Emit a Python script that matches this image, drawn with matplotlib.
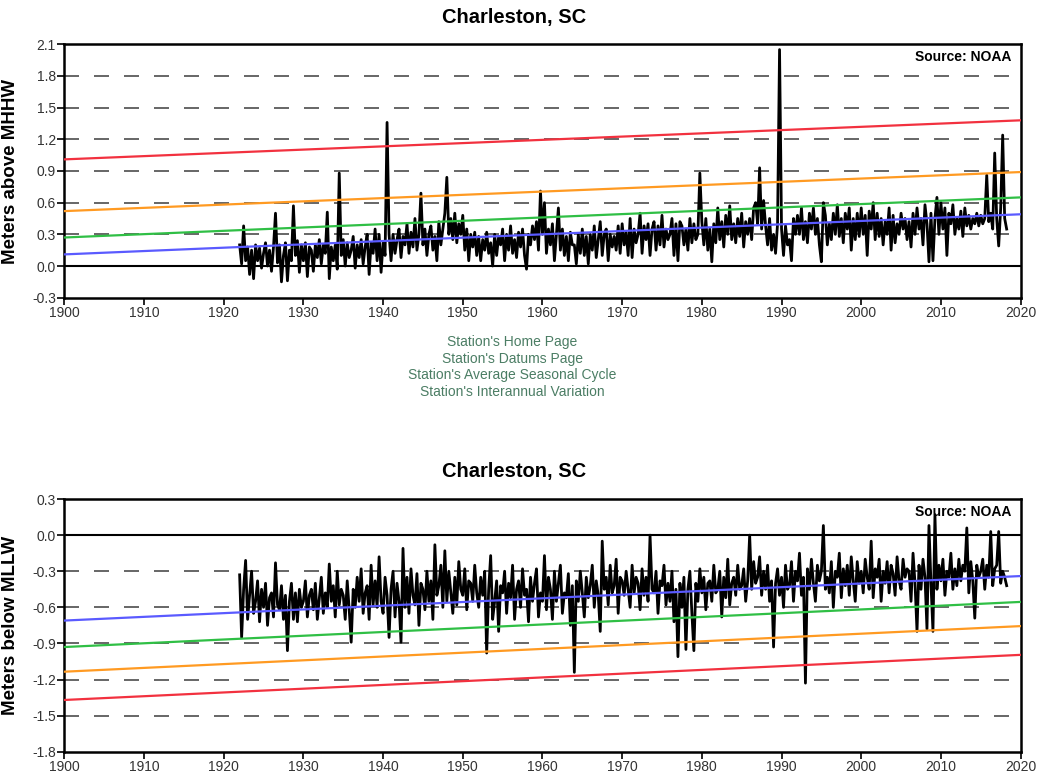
import numpy as np
import matplotlib
matplotlib.use("Agg")
import matplotlib.pyplot as plt

plt.rcParams['font.family'] = ['Liberation Sans', 'DejaVu Sans']

# Monthly extremes, sampled quarterly from 1922.0 (centimetres)
start_year = 1922.0
step = 0.25

# highest water above MHHW
high_cm = [
    20, 2, 38, 5,   18, -8, 15, -12,   20, 5, 17, -2,   12, 22, 0, 15,
    -5, 18, 50, 3,   20, -15, 10, 22,   -14, 15, 5, 57,   10, 24, -6, 20,
    5, 22, -10, 18,   15, -5, 20, 8,   25, 2, 20, 12,   51, -12, 18, 5,
    20, -3, 88, 10,   25, 0, 22, 8,   15, 28, -2, 20,   8, 25, 2, 18,
    30, -8, 22, 12,   35, 5, 30, -6,   22, 10, 136, 30,   5, 30, 12, 25,
    35, 8, 28, 20,   40, 12, 32, 18,   45, 15, 30, 69,   20, 35, 10, 30,
    38, 15, 28, 5,   42, 20, 35, 50,   84, 30, 45, 25,   50, 22, 40, 30,
    48, 15, 35, 5,   30, 18, 32, 10,   28, 5, 25, 15,   32, 12, 22, 0,
    30, 10, 28, 20,   35, 5, 30, 15,   38, 12, 25, 8,   32, 18, 35, 10,
    -3, 30, 20, 38,   25, 42, 15, 71,   30, 60, 12, 35,   20, 40, 5, 30,
    55, 15, 35, 10,   28, 5, 32, 20,   20, 2, 30, 12,   35, 10, 28, 2,
    30, 15, 38, 8,   25, 42, 10, 30,   35, 5, 30, 18,   28, 15, 38, 12,
    40, 20, 32, 10,   45, 8, 35, 22,   30, 50, 12, 38,   25, 40, 10, 35,
    42, 15, 38, 20,   48, 18, 35, 25,   30, 45, 10, 40,   5, 42, 38, 20,
    35, 15, 45, 22,   40, 25, 30, 88,   42, 20, 45, 15,   35, 4, 40, 22,
    55, 25, 42, 18,   48, 30, 57, 25,   40, 22, 45, 28,   50, 18, 42, 30,
    45, 25, 55, 60,   40, 93, 35, 62,   38, 20, 45, 15,   30, 12, 40, 205,
    35, 10, 38, 20,   25, 5, 45, 30,   48, 30, 55, 25,   42, 22, 50, 35,
    55, 30, 45, 20,   4, 60, 48, 20,   40, 25, 50, 30,   58, 28, 45, 22,
    50, 35, 55, 15,   45, 25, 50, 28,   55, 30, 48, 10,   52, 35, 60, 25,
    50, 28, 45, 20,   42, 30, 55, 15,   48, 22, 40, 30,   50, 35, 45, 25,
    42, 18, 50, 30,   55, 35, 45, 20,   58, 40, 4, 50,   5, 45, 65, 30,
    60, 35, 55, 10,   50, 40, 58, 30,   45, 35, 52, 28,   55, 38, 48, 35,
    45, 40, 50, 38,   48, 40, 45, 86,   42, 50, 35, 107,   45, 19, 55, 124,
    45, 35,
]

# lowest water below MLLW
low_cm = [
    -33, -85, -45, -21,   -70, -50, -30, -65,   -55, -38, -72, -45,   -60, -40, -75, -52,
    -48, -68, -23, -58,   -62, -42, -70, -50,   -96, -55, -40, -70,   -48, -72, -45, -60,
    -55, -38, -68, -50,   -45, -62, -40, -70,   -52, -35, -65, -48,   -60, -24, -55, -42,
    -68, -30, -58, -45,   -50, -70, -38, -62,   -89, -45, -60, -35,   -55, -28, -65, -48,
    -42, -70, -25, -58,   -38, -60, -18, -55,   -65, -35, -50, -85,   -45, -30, -68, -40,
    -55, -89, -11, -60,   -35, -65, -28, -50,   -58, -32, -75, -40,   -45, -62, -30, -55,
    -38, -70, -8, -50,   -42, -25, -60, -13,   -55, -30, -48, -65,   -35, -58, -22, -45,
    -50, -28, -62, -38,   -40, -55, -25, -48,   -60, -35, -50, -30,   -98, -45, -17, -70,
    -55, -38, -80, -42,   -48, -30, -65, -40,   -52, -25, -70, -45,   -38, -60, -28, -50,
    -45, -72, -35, -55,   -40, -28, -68, -48,   -55, -17, -62, -35,   -45, -70, -30, -55,
    -40, -25, -65, -48,   -52, -32, -75, -42,   -114, -38, -55, -30,   -48, -68, -35, -52,
    -42, -25, -60, -38,   -50, -80, -5, -45,   -35, -58, -25, -48,   -42, -20, -65, -35,
    -38, -50, -30, -45,   -60, -25, -48, -35,   -40, -62, -28, -50,   -35, -55, 0, -45,
    -48, -30, -65, -38,   -42, -25, -58, -40,   -55, -30, -72, -45,   -101, -40, -60, -35,
    -95, -45, -30, -65,   -96, -40, -55, -28,   -48, -35, -62, -40,   -38, -55, -25, -48,
    -45, -30, -68, -35,   -52, -20, -58, -40,   -35, -50, -25, -45,   -42, -28, -55, -38,
    0, -45, -22, -40,   -35, -18, -50, -30,   -45, -25, -55, -38,   -93, -40, -28, -50,
    -35, -60, -25, -45,   -42, -22, -55, -30,   -38, -15, -50, -35,   -123, -28, -45, -20,
    -40, -55, -25, -38,   -30, 8, -45, -35,   -48, -22, -60, -30,   -35, -15, -52, -28,
    -42, -25, -50, -18,   -38, -55, -22, -40,   -30, -48, -20, -35,   -45, -5, -52, -28,
    -35, -20, -55, -30,   -40, -22, -48, -25,   -32, -50, -18, -38,   -45, -20, -35, -28,
    -30, -55, -15, -40,   -80, -25, -45, -20,   -35, -78, 8, -40,   -80, 17, -45, -25,
    -38, -20, -50, -30,   -35, -15, -45, -28,   -42, -20, -38, -25,   -30, 6, -48, -22,
    -38, -69, -25, -35,   -30, -20, -45, -25,   -35, 3, -42, -28,   -25, 3, -40, -30,
    -35, -42,
]

# Reference levels (m) at 1900 and 2020
trend_years = [1900, 2020]
high_blue = [0.11, 0.49]
high_green = [0.27, 0.65]
high_orange = [0.52, 0.89]
high_red = [1.01, 1.38]
low_blue = [-0.71, -0.34]
low_green = [-0.93, -0.555]
low_orange = [-1.135, -0.756]
low_red = [-1.37, -0.995]

high_ticks = [-0.3, 0.0, 0.3, 0.6, 0.9, 1.2, 1.5, 1.8, 2.1]
low_ticks = [-1.8, -1.5, -1.2, -0.9, -0.6, -0.3, 0.0, 0.3]
year_ticks = list(range(1900, 2021, 10))

links = ["Station's Home Page", "Station's Datums Page",
         "Station's Average Seasonal Cycle", "Station's Interannual Variation"]

trend_colors = {'blue': '#5a5aff', 'green': '#2fbf45', 'orange': '#ff9a22', 'red': '#f2313f'}


def draw_panel(ax, values_cm, ticks, ylabel, trends):
    vals = np.array(values_cm) / 100.0
    t = start_year + step * np.arange(len(vals))
    ax.set_xlim(1900, 2020)
    ax.set_ylim(ticks[0], ticks[-1])
    for y in ticks[1:-1]:
        if y == 0.0:
            ax.axhline(0.0, color='black', lw=1.5, zorder=1)
        else:
            ax.axhline(y, color='#4d4d4d', lw=1.2, dashes=(9, 9), zorder=1)
    ax.plot(t, vals, color='black', lw=2.0, zorder=2)
    for name, vals_tr in trends:
        ax.plot(trend_years, vals_tr, color=trend_colors[name], lw=1.6, zorder=3)
    ax.set_xticks(year_ticks)
    ax.set_yticks(ticks)
    ax.set_yticklabels([f"{v:.1f}" for v in ticks])
    ax.tick_params(direction='out', length=5, width=1.2, labelsize=10,
                   labelcolor='#333333', pad=1)
    for s in ax.spines.values():
        s.set_linewidth(1.8)
    ax.set_ylabel(ylabel, fontsize=13.5, fontweight='bold')
    ax.yaxis.set_label_coords(-0.047, 0.5)
    ax.text(0.99, 0.95, 'Source: NOAA', transform=ax.transAxes, ha='right',
            va='center', fontsize=10, fontweight='bold')


fig = plt.figure(figsize=(10.39, 7.76), dpi=100)
ax1 = fig.add_axes([0.0619, 0.6164, 0.9204, 0.3265])
ax2 = fig.add_axes([0.0619, 0.0313, 0.9204, 0.3256])

draw_panel(ax1, high_cm, high_ticks, 'Meters above MHHW',
           [('blue', high_blue), ('green', high_green), ('orange', high_orange), ('red', high_red)])
draw_panel(ax2, low_cm, low_ticks, 'Meters below MLLW',
           [('blue', low_blue), ('green', low_green), ('orange', low_orange), ('red', low_red)])

fig.text(514 / 1039, 1 - 18 / 776, 'Charleston, SC', ha='center', va='center',
         fontsize=14.5, fontweight='bold')
fig.text(514 / 1039, 1 - 472 / 776, 'Charleston, SC', ha='center', va='center',
         fontsize=14.5, fontweight='bold')

for i, label in enumerate(links):
    fig.text(512 / 1039, 1 - (342 + 16.5 * i) / 776, label, ha='center', va='center',
             fontsize=10, color='#4b7d64')

fig.savefig('out.png', dpi=100)
